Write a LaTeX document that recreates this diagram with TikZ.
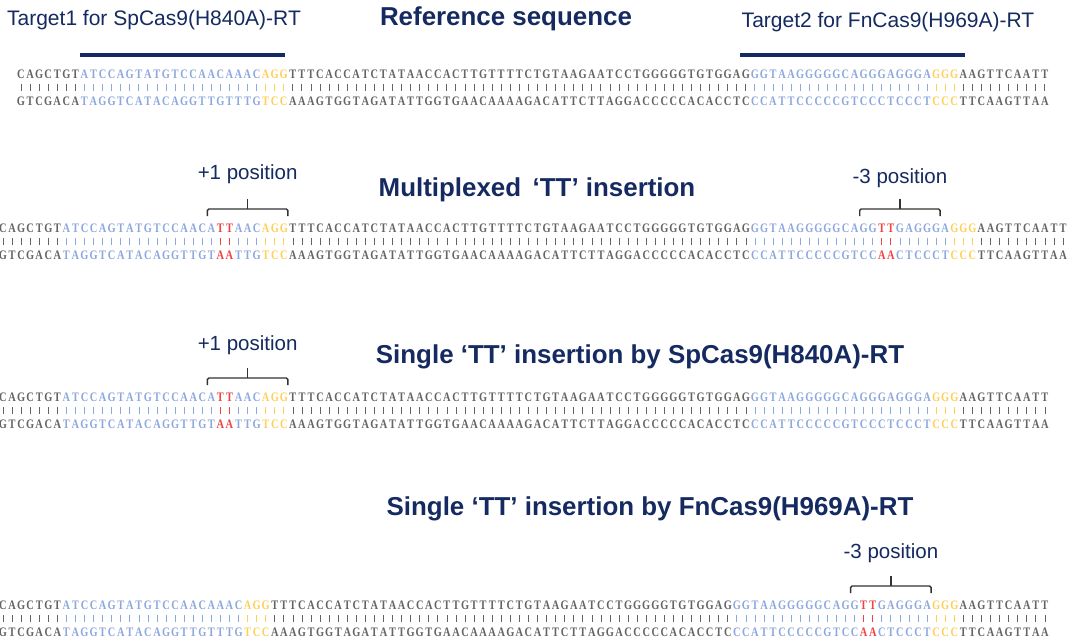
\documentclass[tikz,border=0pt]{standalone}
\usepackage{fontspec}
\setmainfont{Liberation Sans}
\newfontfamily\seqfont{Liberation Serif}
\usetikzlibrary{calc}
\definecolor{navy}{RGB}{20,42,96}
\definecolor{seqgray}{RGB}{100,100,100}
\definecolor{seqblue}{RGB}{140,168,222}
\definecolor{seqyellow}{RGB}{255,208,85}
\definecolor{seqred}{RGB}{240,66,66}
\tikzset{
  base/.style={inner sep=0pt, font=\seqfont\bfseries\fontsize{13}{13}\selectfont},
  barline/.style={line width=0.8pt},
  title/.style={text=navy, font=\bfseries\fontsize{25.9}{25.9}\selectfont, inner sep=0pt},
  tlabel/.style={text=navy, font=\fontsize{21}{21}\selectfont, inner sep=0pt},
  poslabel/.style={text=navy, font=\fontsize{20.5}{20.5}\selectfont, inner sep=0pt},
  bracketline/.style={line width=1.4pt, draw=black!80, rounded corners=1.5pt},
  targetbar/.style={line width=4.5pt, draw=navy},
}
\newcount\bpos
\def\comp#1{\if A#1T\else\if T#1A\else\if C#1G\else C\fi\fi\fi}
\def\placebase#1{%
  \pgfmathsetmacro\bx{\curx+\the\bpos*9.06}%
  \edef\nt{\curname t\the\bpos}\edef\nb{\curname b\the\bpos}%
  \node[base, text=\col] (\nt) at (\bx,\cury) {\scalebox{0.8}[1]{#1}};
  \node[base, text=\col] (\nb) at (\bx,\cury+27) {\scalebox{0.8}[1]{\comp{#1}}};
  \draw[barline, draw=\col] ([yshift=-10pt]\nt.center) -- ([yshift=10pt]\nb.center);
  \global\advance\bpos by 1\relax}
\def\dochars#1{\ifx#1\relax\else\placebase{#1}\expandafter\dochars\fi}
\def\seqline#1#2#3#4{%
  \global\bpos=0\relax
  \def\curname{#1}\def\curx{#2}\def\cury{#3}%
  \foreach \col/\str in {#4}{\expandafter\dochars\str\relax}}
\def\posbracket#1#2#3{% left node, right node, name
  \path ([xshift=-4pt]#1.center) ++(0,-19) coordinate (#3l);
  \path ([xshift=4pt]#2.center) ++(0,-19) coordinate (#3r);
  \coordinate (#3m) at ($(#3l)!0.5!(#3r)$);
  \draw[bracketline] ([yshift=-7pt]#3l) -- (#3l) -- (#3r) -- ([yshift=-7pt]#3r);
  \draw[bracketline] (#3m) -- ++(0,-10);}
\begin{document}
\begin{tikzpicture}[x=1pt,y=-1pt]
\useasboundingbox (0,0) rectangle (1067,641);
\fill[white] (0,0) rectangle (1067,641);

% headings
\node[tlabel] (t1) at (154,20) {Target1 for SpCas9(H840A)-RT};
\node[title] (ref) at (506,19) {Reference sequence};
\node[tlabel] (t2) at (888,22) {Target2 for FnCas9(H969A)-RT};
\draw[targetbar] (80,55) -- (285,55);
\draw[targetbar] (740,55) -- (965,55);

% line 1: reference
\seqline{L1}{21}{74}{seqgray/CAGCTGT,seqblue/ATCCAGTATGTCCAACAAAC,seqyellow/AGG,seqgray/TTTCACCATCTATAACCACTTGTTTTCTGTAAGAATCCTGGGGGTGTGGAG,seqblue/GGTAAGGGGGCAGGGAGGGA,seqyellow/GGG,seqgray/AAGTTCAATT}

% line 2: multiplexed
\node[title] (mt) at (537,190) {Multiplexed \,‘TT’ insertion};
\seqline{L2}{3}{228}{seqgray/CAGCTGT,seqblue/ATCCAGTATGTCCAACA,seqred/TT,seqblue/AAC,seqyellow/AGG,seqgray/TTTCACCATCTATAACCACTTGTTTTCTGTAAGAATCCTGGGGGTGTGGAG,seqblue/GGTAAGGGGGCAGG,seqred/TT,seqblue/GAGGGA,seqyellow/GGG,seqgray/AAGTTCAATT}
\posbracket{L2t23}{L2t31}{bra}
\posbracket{L2t95}{L2t103}{brb}
\node[poslabel] (p2a) at ($(bram)+(0,-35)$) {+1 position};
\node[poslabel] (p2b) at ($(brbm)+(0,-31)$) {-3 position};

% line 3: SpCas9
\node[title] (st) at (640,357) {Single ‘TT’ insertion by SpCas9(H840A)-RT};
\seqline{L3}{3}{397}{seqgray/CAGCTGT,seqblue/ATCCAGTATGTCCAACA,seqred/TT,seqblue/AAC,seqyellow/AGG,seqgray/TTTCACCATCTATAACCACTTGTTTTCTGTAAGAATCCTGGGGGTGTGGAG,seqblue/GGTAAGGGGGCAGGGAGGGA,seqyellow/GGG,seqgray/AAGTTCAATT}
\posbracket{L3t23}{L3t31}{brc}
\node[poslabel] (p3a) at ($(brcm)+(0,-33)$) {+1 position};

% line 4: FnCas9
\node[title] (ft) at (650,509) {Single ‘TT’ insertion by FnCas9(H969A)-RT};
\seqline{L4}{3}{605}{seqgray/CAGCTGT,seqblue/ATCCAGTATGTCCAACAAAC,seqyellow/AGG,seqgray/TTTCACCATCTATAACCACTTGTTTTCTGTAAGAATCCTGGGGGTGTGGAG,seqblue/GGTAAGGGGGCAGG,seqred/TT,seqblue/GAGGGA,seqyellow/GGG,seqgray/AAGTTCAATT}
\posbracket{L4t94}{L4t102}{brd}
\node[poslabel] (p4b) at ($(brdm)+(0,-33)$) {-3 position};
\end{tikzpicture}
\end{document}
